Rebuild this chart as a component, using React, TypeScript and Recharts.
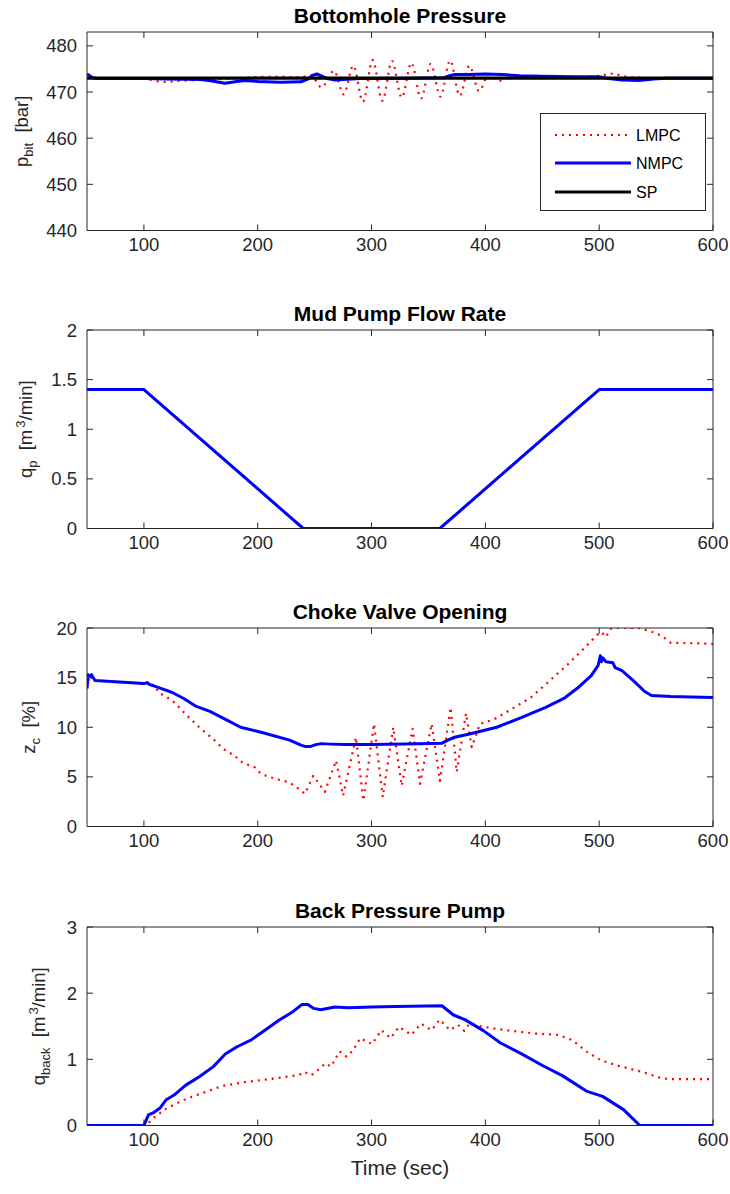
import React from 'react';
import { LineChart, Line, XAxis, YAxis, Legend } from 'recharts';

const FONT = '"Liberation Sans", Arial, Helvetica, sans-serif';
const AX = '#262626';
const RED = '#ff0000';
const BLUE = '#0000ff';
const BLACK = '#000000';

const X_DOMAIN = [50, 600];
const X_TICKS = [100, 200, 300, 400, 500, 600];

// ---------- Plot 1: Bottomhole Pressure ----------
const P1_Y_DOMAIN = [440, 483];
const P1_Y_TICKS = [440, 450, 460, 470, 480];
const P1_SP_T = [50, 600];
const P1_SP_V = [473, 473];
const P1_NMPC_T = [50, 52, 55, 60, 100, 120, 150, 160, 171, 180, 188, 200, 220, 238, 244, 248, 252, 256, 261, 268, 290, 330, 364, 368, 373, 385, 400, 415, 430, 450, 480, 500, 508, 520, 535, 548, 558, 600];
const P1_NMPC_V = [473.9, 473.6, 473.1, 472.9, 472.9, 472.8, 472.7, 472.4, 471.9, 472.2, 472.5, 472.3, 472.1, 472.2, 472.8, 473.6, 473.9, 473.5, 472.9, 472.6, 472.9, 473.0, 473.1, 473.5, 473.8, 473.8, 473.9, 473.8, 473.5, 473.4, 473.3, 473.3, 472.9, 472.6, 472.5, 472.8, 473.0, 473.0];
const P1_LMPC_T = [50, 100, 108, 118, 130, 145, 160, 175, 190, 205, 220, 233, 240, 247, 256, 267, 275.5, 284, 292.5, 301, 309.5, 318, 326.5, 335, 343.5, 352, 360.5, 369, 377.5, 386, 394.5, 403, 411.5, 420, 440, 470, 495, 505, 512, 520, 535, 560, 600];
const P1_LMPC_V = [473, 473, 472.5, 472.2, 472.4, 472.6, 472.7, 472.9, 473.1, 473.3, 473.3, 473.2, 473.3, 473.6, 471.0, 474.6, 469.5, 475.7, 467.9, 476.9, 468.1, 476.7, 468.8, 476.3, 468.6, 476.1, 469.0, 476.8, 469.2, 475.7, 470.2, 473.8, 472.4, 473.1, 473.0, 473.1, 473.4, 473.7, 474.0, 473.5, 473.1, 473.0, 473.0];

// ---------- Plot 2: Mud Pump Flow Rate ----------
const P2_Y_DOMAIN = [0, 2];
const P2_Y_TICKS = [0, 0.5, 1, 1.5, 2];
const P2_T = [50, 100, 240, 360, 500, 600];
const P2_LMPC_V = [1.4, 1.4, 0, 0, 1.4, 1.4];
const P2_NMPC_V = [1.4, 1.4, 0, 0, 1.4, 1.4];

// ---------- Plot 3: Choke Valve Opening ----------
const P3_Y_DOMAIN = [0, 20];
const P3_Y_TICKS = [0, 5, 10, 15, 20];
const P3_NMPC_T = [50, 51, 52.5, 54, 57, 100, 103, 105, 108, 113, 125, 135, 146, 158, 170, 185, 203, 228, 238, 242, 246, 251, 256, 264, 277, 301, 342, 362, 367, 373, 387, 410, 432, 453, 469, 481, 493, 499, 501, 502, 503, 506, 512, 514, 516, 520, 530, 540, 546, 563, 600];
const P3_NMPC_V = [13.9, 15.3, 15.1, 15.3, 14.7, 14.4, 14.5, 14.3, 14.2, 14.0, 13.5, 12.9, 12.1, 11.6, 10.9, 10.0, 9.5, 8.7, 8.2, 8.05, 8.05, 8.25, 8.35, 8.3, 8.25, 8.27, 8.34, 8.4, 8.7, 9.0, 9.35, 10.0, 11.0, 12.0, 12.9, 13.95, 15.2, 16.2, 17.2, 16.6, 17.0, 16.6, 16.5, 16.0, 15.9, 15.7, 14.7, 13.6, 13.2, 13.1, 13.0];
const P3_LMPC_T = [50, 52, 57, 100, 104, 110, 113, 125, 137.6, 150, 160, 170, 180, 187, 197, 203, 210, 219, 226, 232.7, 238, 241.5, 248.8, 259, 268.8, 275, 286.3, 292.8, 302.2, 309.8, 319.1, 326.5, 336.1, 342.6, 352.8, 360.1, 369.5, 374.8, 383, 388, 395.3, 407, 424, 440, 456.7, 473, 485, 497.7, 501.8, 505.9, 510, 514, 534.5, 546.8, 555, 563, 571, 600];
const P3_LMPC_V = [14.0, 15.2, 14.7, 14.4, 14.5, 14.1, 13.5, 12.7, 11.2, 9.85, 8.9, 7.8, 7.1, 6.4, 6.0, 5.3, 5.0, 4.7, 4.5, 4.1, 3.6, 3.3, 5.1, 3.5, 6.65, 3.1, 9.0, 2.6, 10.35, 2.96, 10.0, 4.1, 9.85, 4.3, 10.35, 4.6, 12.0, 5.5, 11.4, 8.0, 10.35, 10.75, 11.9, 13.0, 14.7, 16.4, 17.75, 19.26, 19.6, 19.1, 19.9, 20.0, 20.0, 19.6, 19.2, 18.5, 18.5, 18.4];

// ---------- Plot 4: Back Pressure Pump ----------
const P4_Y_DOMAIN = [0, 3];
const P4_Y_TICKS = [0, 1, 2, 3];
const P4_NMPC_T = [50, 100, 104, 108, 114, 119.6, 126.5, 136.8, 149, 161, 171.5, 181.8, 194, 206.3, 218.6, 230.9, 239, 244, 249.3, 255.4, 267.7, 280, 300, 321, 361.8, 372, 382, 398.6, 413, 431, 449.8, 468, 488.7, 503, 521.4, 535.7, 600];
const P4_NMPC_V = [0, 0, 0.16, 0.19, 0.26, 0.39, 0.46, 0.61, 0.74, 0.89, 1.08, 1.19, 1.29, 1.44, 1.59, 1.72, 1.83, 1.83, 1.77, 1.75, 1.79, 1.78, 1.79, 1.80, 1.81, 1.67, 1.6, 1.43, 1.25, 1.09, 0.91, 0.75, 0.52, 0.44, 0.24, 0, 0];
const P4_LMPC_T = [50, 102, 108, 120, 136.8, 153, 169.5, 190, 210, 231, 239, 241, 247, 253, 259.5, 264.4, 271.8, 278, 284, 290, 300.4, 308.6, 316.8, 324, 335, 343.4, 352.8, 359.8, 369, 376, 381.5, 386, 398.6, 423, 443.6, 464, 476.4, 488.7, 501, 517.3, 537.8, 554, 562, 600];
const P4_LMPC_V = [0, 0, 0.11, 0.26, 0.40, 0.50, 0.60, 0.66, 0.70, 0.75, 0.78, 0.81, 0.76, 0.84, 0.94, 0.89, 1.12, 1.04, 1.14, 1.32, 1.23, 1.44, 1.32, 1.49, 1.37, 1.54, 1.44, 1.60, 1.44, 1.52, 1.43, 1.54, 1.49, 1.43, 1.39, 1.37, 1.29, 1.12, 0.99, 0.90, 0.81, 0.72, 0.70, 0.70];

const LEGEND_NAMES = ['LMPC', 'NMPC', 'SP'];

const zip = (t: number[], v: number[]) => t.map((x, i) => ({ t: x, v: v[i] }));

// ---------- geometry ----------
const W = 730;
const PL = 87;
const PR = 713;
const MT = 32;
const PH = 198.5;
const PB = MT + PH;
const TL = 6;
const TICK_FS = 18.5;

type Series = { data: { t: number; v: number }[]; color: string; width: number; dotted?: boolean; type?: 'linear' | 'monotone' };

const bottomTick = (p: any) => (
  <g>
    <line x1={p.x} x2={p.x} y1={PB} y2={PB - TL} stroke={AX} strokeWidth={1} />
    <text x={p.x} y={PB + 20} textAnchor="middle" fontFamily={FONT} fontSize={TICK_FS} fill={AX}>
      {p.payload.value}
    </text>
  </g>
);
const topTick = (p: any) => (
  <line x1={p.x} x2={p.x} y1={MT} y2={MT + TL} stroke={AX} strokeWidth={1} />
);
const leftTick = (p: any) => (
  <g>
    <line x1={PL} x2={PL + TL} y1={p.y} y2={p.y} stroke={AX} strokeWidth={1} />
    <text x={PL - 10} y={p.y + 6.5} textAnchor="end" fontFamily={FONT} fontSize={TICK_FS} fill={AX}>
      {p.payload.value}
    </text>
  </g>
);
const rightTick = (p: any) => (
  <line x1={PR} x2={PR - TL} y1={p.y} y2={p.y} stroke={AX} strokeWidth={1} />
);

const PanelTitle = ({ text }: any) => (
  <text x={(PL + PR) / 2} y={MT - 9.5} textAnchor="middle" fontFamily={FONT} fontSize={21} fontWeight="bold" fill={BLACK}>
    {text}
  </text>
);

const XTitle = ({ text }: any) => (
  <text x={(PL + PR) / 2} y={PB + 49} textAnchor="middle" fontFamily={FONT} fontSize={21} fill={AX}>
    {text}
  </text>
);

const YTitle = ({ bx, children }: any) => (
  <text
    transform={`translate(${bx},${MT + PH / 2}) rotate(-90)`}
    textAnchor="middle"
    fontFamily={FONT}
    fontSize={TICK_FS}
    fill={AX}
    style={{ whiteSpace: 'pre' }}
  >
    {children}
  </text>
);

const LegendBox = () => {
  const rows = [
    { name: LEGEND_NAMES[0], color: RED, width: 2.2, dash: '2 5' },
    { name: LEGEND_NAMES[1], color: BLUE, width: 3, dash: undefined },
    { name: LEGEND_NAMES[2], color: BLACK, width: 3.2, dash: undefined },
  ];
  const ys = [22, 50, 79];
  return (
    <div style={{ width: 166, height: 98, position: 'relative', background: '#fff' }}>
      <svg width={166} height={98} style={{ position: 'absolute', left: 0, top: 0 }}>
        <rect x={0.5} y={0.5} width={165} height={97} fill="#fff" stroke={AX} strokeWidth={1} />
        {rows.map((r, i) => (
          <g key={r.name}>
            <line x1={15} x2={91} y1={ys[i]} y2={ys[i]} stroke={r.color} strokeWidth={r.width} strokeDasharray={r.dash} />
            <text x={96} y={ys[i] + 5.5} fontFamily={FONT} fontSize={16} fill={BLACK}>
              {r.name}
            </text>
          </g>
        ))}
      </svg>
    </div>
  );
};

function Panel(props: {
  top: number;
  bottomPad: number;
  title: string;
  yDomain: number[];
  yTicks: number[];
  yLabel: React.ReactNode;
  xLabel?: string;
  series: Series[];
  legend?: boolean;
}) {
  const { top, bottomPad, title, yDomain, yTicks, yLabel, xLabel, series, legend } = props;
  const height = MT + PH + bottomPad;
  return (
    <div style={{ position: 'absolute', left: 0, top, width: W, height }}>
      <LineChart width={W} height={height} margin={{ top: MT - 1, right: W - PR - 1, bottom: bottomPad - 1, left: 0 }}>
        <XAxis
          dataKey="t"
          type="number"
          domain={X_DOMAIN}
          ticks={X_TICKS}
          interval={0}
          allowDataOverflow
          height={1}
          tickSize={0}
          tickMargin={0}
          tickLine={false}
          axisLine={{ stroke: AX, strokeWidth: 1 }}
          tick={bottomTick}
          label={xLabel ? <XTitle text={xLabel} /> : undefined}
        />
        <XAxis
          xAxisId="top"
          orientation="top"
          dataKey="t"
          type="number"
          domain={X_DOMAIN}
          ticks={X_TICKS}
          interval={0}
          allowDataOverflow
          height={1}
          tickSize={0}
          tickMargin={0}
          tickLine={false}
          axisLine={{ stroke: AX, strokeWidth: 1 }}
          tick={topTick}
          label={<PanelTitle text={title} />}
        />
        <YAxis
          type="number"
          domain={yDomain}
          ticks={yTicks}
          interval={0}
          allowDataOverflow
          width={PL}
          tickSize={0}
          tickMargin={0}
          tickLine={false}
          axisLine={{ stroke: AX, strokeWidth: 1 }}
          tick={leftTick}
          label={yLabel as any}
        />
        <YAxis
          yAxisId="r"
          orientation="right"
          type="number"
          domain={yDomain}
          ticks={yTicks}
          interval={0}
          allowDataOverflow
          width={1}
          tickSize={0}
          tickMargin={0}
          tickLine={false}
          axisLine={{ stroke: AX, strokeWidth: 1 }}
          tick={rightTick}
        />
        {series.map((s, i) => (
          <Line
            key={i}
            data={s.data}
            dataKey="v"
            type={s.type || 'linear'}
            stroke={s.color}
            strokeWidth={s.width}
            strokeDasharray={s.dotted ? '2 5' : undefined}
            strokeLinecap="butt"
            strokeLinejoin="round"
            dot={false}
            activeDot={false}
            isAnimationActive={false}
          />
        ))}
        {legend ? (
          <Legend
            layout="vertical"
            align="center"
            verticalAlign="middle"
            wrapperStyle={{ left: 540, top: 113, width: 166, height: 98 }}
            content={() => <LegendBox />}
          />
        ) : null}
      </LineChart>
    </div>
  );
}

const SUB = 13;

export default function App() {
  return (
    <div style={{ position: 'absolute', left: 0, top: 0, width: 730, height: 1194, background: '#fff' }}>
      <Panel
        top={0}
        bottomPad={60}
        title="Bottomhole Pressure"
        yDomain={P1_Y_DOMAIN}
        yTicks={P1_Y_TICKS}
        legend
        yLabel={
          <YTitle bx={28}>
            <tspan>p</tspan>
            <tspan fontSize={SUB} dy={5}>bit</tspan>
            <tspan dy={-5}>{'  [bar]'}</tspan>
          </YTitle>
        }
        series={[
          { data: zip(P1_LMPC_T, P1_LMPC_V), color: RED, width: 2.2, dotted: true, type: 'monotone' },
          { data: zip(P1_NMPC_T, P1_NMPC_V), color: BLUE, width: 3 },
          { data: zip(P1_SP_T, P1_SP_V), color: BLACK, width: 3.2 },
        ]}
      />
      <Panel
        top={298}
        bottomPad={60}
        title="Mud Pump Flow Rate"
        yDomain={P2_Y_DOMAIN}
        yTicks={P2_Y_TICKS}
        yLabel={
          <YTitle bx={32}>
            <tspan>q</tspan>
            <tspan fontSize={SUB} dy={5}>p</tspan>
            <tspan dy={-5}>{'  [m'}</tspan>
            <tspan fontSize={SUB} dy={-7} dx={2}>3</tspan>
            <tspan dy={7}>/min]</tspan>
          </YTitle>
        }
        series={[
          { data: zip(P2_T, P2_LMPC_V), color: RED, width: 2.2, dotted: true },
          { data: zip(P2_T, P2_NMPC_V), color: BLUE, width: 3 },
        ]}
      />
      <Panel
        top={596}
        bottomPad={60}
        title="Choke Valve Opening"
        yDomain={P3_Y_DOMAIN}
        yTicks={P3_Y_TICKS}
        yLabel={
          <YTitle bx={35}>
            <tspan>z</tspan>
            <tspan fontSize={SUB} dy={5}>c</tspan>
            <tspan dy={-5}>{'  [%]'}</tspan>
          </YTitle>
        }
        series={[
          { data: zip(P3_LMPC_T, P3_LMPC_V), color: RED, width: 2.2, dotted: true },
          { data: zip(P3_NMPC_T, P3_NMPC_V), color: BLUE, width: 3 },
        ]}
      />
      <Panel
        top={895}
        bottomPad={72}
        title="Back Pressure Pump"
        xLabel="Time (sec)"
        yDomain={P4_Y_DOMAIN}
        yTicks={P4_Y_TICKS}
        yLabel={
          <YTitle bx={45}>
            <tspan>q</tspan>
            <tspan fontSize={SUB} dy={5}>back</tspan>
            <tspan dy={-5}>{'  [m'}</tspan>
            <tspan fontSize={SUB} dy={-7} dx={2}>3</tspan>
            <tspan dy={7}>/min]</tspan>
          </YTitle>
        }
        series={[
          { data: zip(P4_LMPC_T, P4_LMPC_V), color: RED, width: 2.2, dotted: true },
          { data: zip(P4_NMPC_T, P4_NMPC_V), color: BLUE, width: 3 },
        ]}
      />
    </div>
  );
}
